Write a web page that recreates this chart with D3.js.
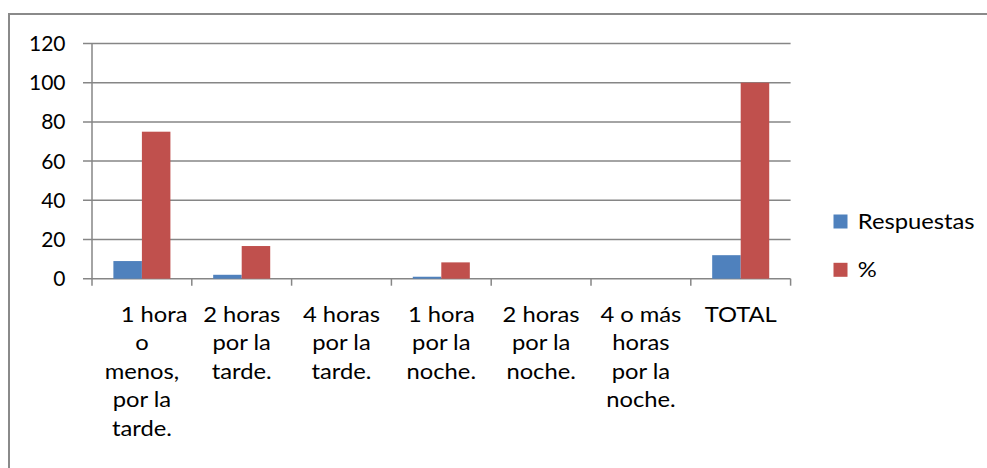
<!DOCTYPE html>
<html>
<head>
<meta charset="utf-8">
<script src="https://cdn.jsdelivr.net/npm/d3@7"></script>
<style>
    body { margin: 0; background: #fff; }
    text { font-family: Lato, "Open Sans", sans-serif; fill: #000; }
</style>
</head>
<body>
<div id="chart"></div>
<script>
var categories = [
    ["\u00a0\u00a0\u00a0\u00a01 hora", "o", "menos,", "por la", "tarde."],
    ["2 horas", "por la", "tarde."],
    ["4 horas", "por la", "tarde."],
    ["1 hora", "por la", "noche."],
    ["2 horas", "por la", "noche."],
    ["4 o más", "horas", "por la", "noche."],
    ["TOTAL"]
];
var seriesNames = ["Respuestas", "%"];
var respuestas = [9, 2, 0, 1, 0, 0, 12];
var porcentaje = [75, 16.67, 0, 8.33, 0, 0, 100];
var yTicks = [0, 20, 40, 60, 80, 100, 120];
var colors = ["#4f81bd", "#c0504d"];

function drawChart() {
    var width = 987;
    var height = 468;
    var left = 92, right = 790.6, top = 43.5, bottom = 278.7;

    var svg = d3.select('#chart')
      .append('svg')
        .attr('width', width)
        .attr('height', height);

    svg.append('rect')
        .attr('x', 9).attr('y', 14)
        .attr('width', 1100).attr('height', 1100)
        .attr('fill', '#fff')
        .attr('stroke', '#8a8a8a')
        .attr('stroke-width', 2);

    var idx = categories.map((d, i) => i);
    var x = d3.scaleBand().domain(idx).range([left, right]);
    var xs = d3.scaleBand().domain(seriesNames).range([0, x.bandwidth()])
        .paddingInner(0).paddingOuter(0.75);
    var y = d3.scaleLinear().domain([0, 120]).range([bottom, top]);

    var grid = svg.append('g')
        .attr('stroke', '#868686')
        .attr('stroke-width', 1.5);

    grid.selectAll('.grid')
      .data(yTicks)
      .enter()
      .append('line')
        .attr('x1', left - 9)
        .attr('x2', right)
        .attr('y1', d => y(d))
        .attr('y2', d => y(d));

    // y axis line
    grid.append('line')
        .attr('x1', left).attr('x2', left)
        .attr('y1', top).attr('y2', bottom);

    // category ticks
    var bounds = idx.map(i => x(i)).concat([right]);
    grid.selectAll('.xtick')
      .data(bounds)
      .enter()
      .append('line')
        .attr('x1', d => d).attr('x2', d => d)
        .attr('y1', bottom).attr('y2', bottom + 7);

    svg.append('g')
      .selectAll('text')
      .data(yTicks)
      .enter()
      .append('text')
        .attr('x', 65.5)
        .attr('y', d => y(d))
        .attr('dy', '0.36em')
        .attr('text-anchor', 'end')
        .attr('font-size', 21)
        .text(d => d);

    var series = [respuestas, porcentaje];
    series.forEach((vals, s) => {
        svg.append('g')
          .selectAll('rect')
          .data(vals)
          .enter()
          .append('rect')
            .attr('x', (d, i) => x(i) + xs(seriesNames[s]))
            .attr('width', xs.bandwidth())
            .attr('y', d => y(d))
            .attr('height', d => y(0) - y(d))
            .attr('fill', colors[s]);
    });

    var labels = svg.append('g')
      .selectAll('text')
      .data(categories)
      .enter()
      .append('text')
        .attr('text-anchor', 'middle')
        .attr('font-size', 22)
        .attr('transform', (d, i) => `translate(${x(i) + x.bandwidth() / 2},321.7) scale(1.08,1)`);

    labels.selectAll('tspan')
      .data(d => d)
      .enter()
      .append('tspan')
        .attr('x', 0)
        .attr('y', (d, j) => j * 28.5)
        .style('white-space', 'pre')
        .text(d => d);

    var legend = svg.append('g')
      .selectAll('g')
      .data(seriesNames)
      .enter()
      .append('g')
        .attr('transform', (d, i) => `translate(833.5,${214.5 + i * 48.3})`);

    legend.append('rect')
        .attr('width', 14)
        .attr('height', 14)
        .attr('fill', (d, i) => colors[i]);

    legend.append('text')
        .attr('x', 22.5)
        .attr('y', 14.5)
        .attr('font-size', 22)
        .attr('transform', 'scale(1.08,1)')
        .text(d => d);
}

drawChart();
</script>
</body>
</html>
